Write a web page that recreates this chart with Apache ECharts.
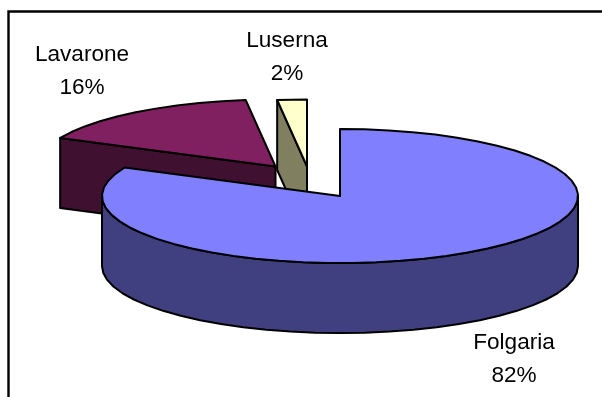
<!DOCTYPE html>
<html>
<head>
<meta charset="utf-8">
<style>html,body{margin:0;padding:0;background:#fff}#chart{width:602px;height:397px}</style>
<script src="https://cdn.jsdelivr.net/npm/echarts@6/dist/echarts.min.js"></script>
</head>
<body>
<div id="chart"></div>
<script>
// Share of the total per municipality
const categories = ['Folgaria', 'Lavarone', 'Luserna'];
const shares = [82, 16, 2];

// Colours of each slice: top face, then side walls
const topColors = ['#8080ff', '#802060', '#ffffcc'];
const wallColors = ['#404080', '#401030', '#808060'];

// Pie projection and slice explosion, in pixels
const pie = { cx: 340, cy: 196, rx: 238, ry: 67, depth: 70 };
const explode = [[0, 0], [-64.5, -29.5], [-33, -29.5]];
const labelPos = [[514, 343, 376], [82, 55, 88], [287, 41, 74]];
const drawOrder = [3, 1, 2];

const total = shares.reduce((a, b) => a + b, 0);
const rad = d => d * Math.PI / 180;

// Point on the rim, angle measured clockwise from 12 o'clock
function rim(i, deg, drop) {
  return [
    pie.cx + explode[i][0] + pie.rx * Math.sin(rad(deg)),
    pie.cy + explode[i][1] + drop - pie.ry * Math.cos(rad(deg))
  ];
}
function arc(i, from, to, drop) {
  const n = Math.max(1, Math.ceil(Math.abs(to - from) / 6));
  const pts = [];
  for (let k = 0; k <= n; k++) pts.push(rim(i, from + (to - from) * k / n, drop));
  return pts;
}

const edge = { stroke: '#000', lineWidth: 2, lineJoin: 'round' };

function renderItem(params, api) {
  const i = params.dataIndex;
  const before = shares.slice(0, i).reduce((a, b) => a + b, 0);
  const a0 = before / total * 360;
  const a1 = (before + api.value(1)) / total * 360;
  const apex = [pie.cx + explode[i][0], pie.cy + explode[i][1]];
  const z2 = drawOrder[i];
  const children = [];
  const poly = (points, fill) => children.push({
    type: 'polygon', z2,
    shape: { points },
    style: Object.assign({ fill }, edge)
  });

  // Radial cut faces that turn towards the viewer
  const dropPt = p => [p[0], p[1] + pie.depth];
  if (Math.sin(rad(a0)) < -1e-6) {
    const p = rim(i, a0, 0);
    poly([apex, p, dropPt(p), dropPt(apex)], wallColors[i]);
  }
  if (Math.sin(rad(a1)) > 1e-6) {
    const p = rim(i, a1, 0);
    poly([apex, p, dropPt(p), dropPt(apex)], wallColors[i]);
  }
  // Outer wall along the front half of the rim
  const w0 = Math.max(a0, 90), w1 = Math.min(a1, 270);
  if (w1 > w0) {
    poly(arc(i, w0, w1, 0).concat(arc(i, w1, w0, pie.depth)), wallColors[i]);
  }
  // Top face
  poly([apex].concat(arc(i, a0, a1, 0)), topColors[i]);

  // Name and rounded percentage
  const lp = labelPos[i];
  const textStyle = { fill: '#000', fontFamily: 'Liberation Sans', fontSize: 22.6, align: 'center', verticalAlign: 'middle' };
  children.push({ type: 'text', z2: 10, style: Object.assign({ x: lp[0], y: lp[1], text: api.value(0) }, textStyle) });
  children.push({ type: 'text', z2: 10, style: Object.assign({ x: lp[0], y: lp[2], text: Math.round(api.value(1) / total * 100) + '%' }, textStyle) });
  return { type: 'group', children };
}

const chart = echarts.init(document.getElementById('chart'), null, { renderer: 'canvas' });
chart.setOption({
  animation: false,
  backgroundColor: '#fff',
  // Chart frame: only its top and left sides fall inside the page
  graphic: [{
    type: 'rect', z: -1, silent: true,
    shape: { x: 8.5, y: 11.5, width: 700, height: 500 },
    style: { fill: '#fff', stroke: '#000', lineWidth: 2.4 }
  }],
  series: [{
    type: 'custom',
    coordinateSystem: 'none',
    silent: true,
    clip: false,
    encode: { itemName: 0, value: 1 },
    data: categories.map((c, i) => [c, shares[i]]),
    renderItem
  }]
});
</script>
</body>
</html>
